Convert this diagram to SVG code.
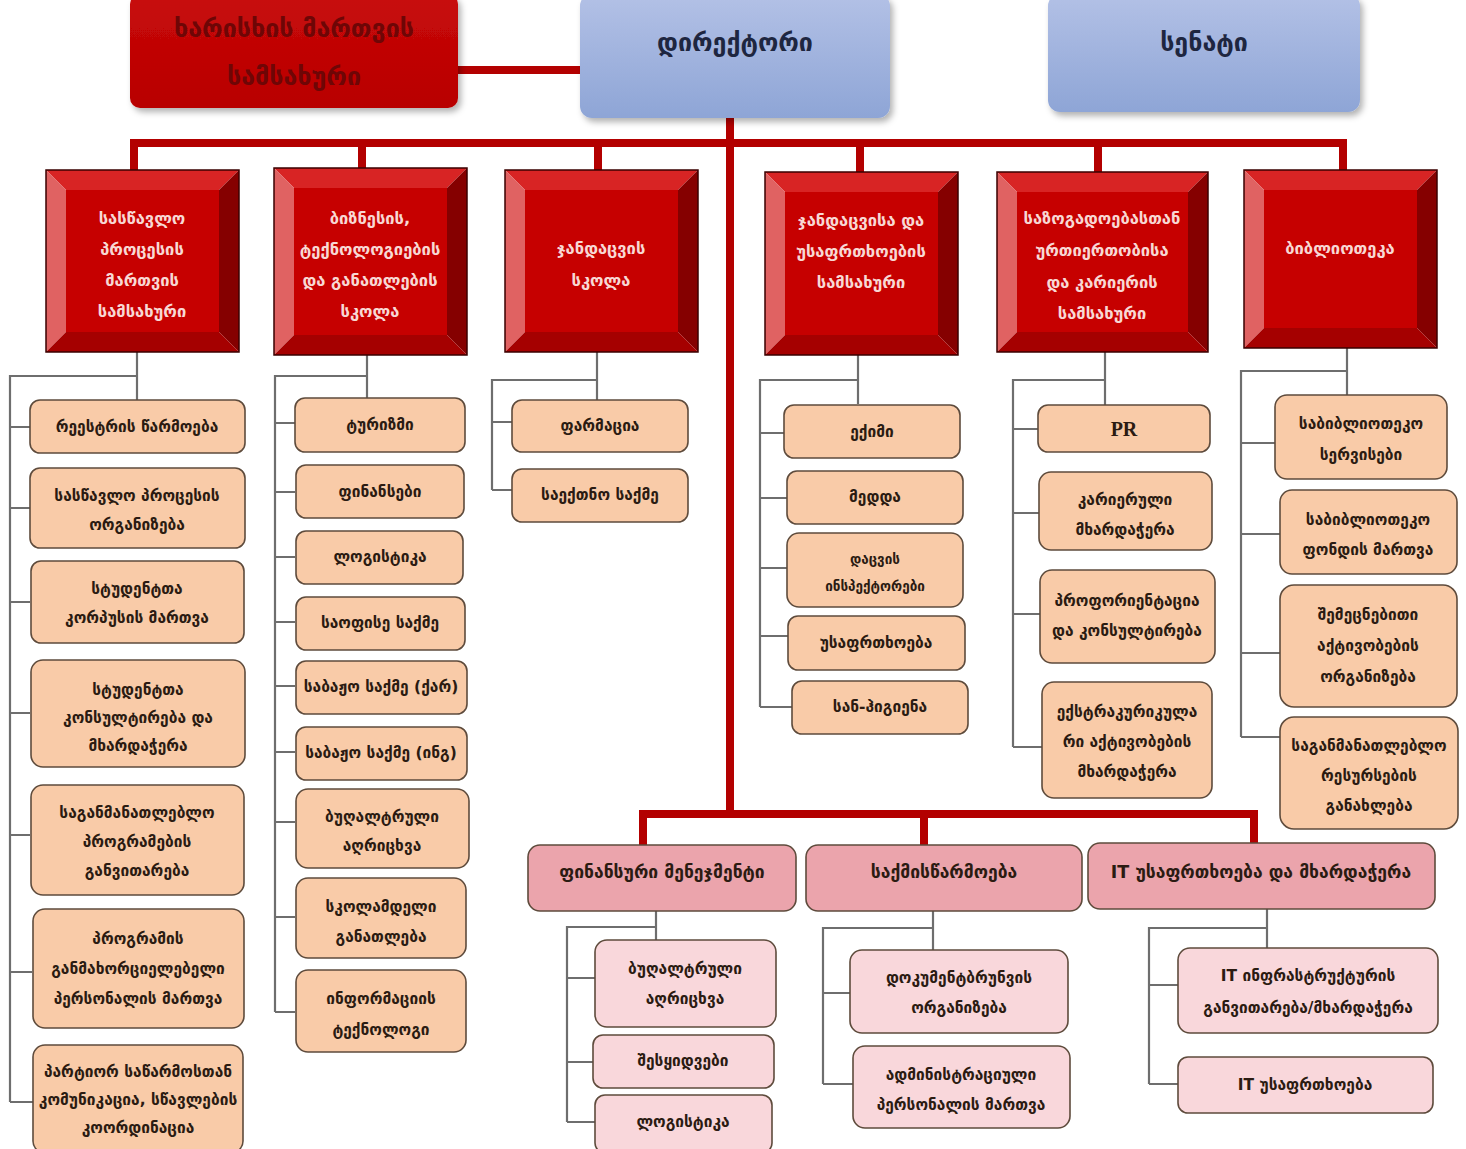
<svg xmlns="http://www.w3.org/2000/svg" width="1466" height="1149" viewBox="0 0 1466 1149">
<style>
.bg{fill:#ffffff}
.c1{fill:#F9CBA8;stroke:#5E4B3C;stroke-width:1.6}
.c2{fill:#F9D7DB;stroke:#5E4B3C;stroke-width:1.6}
.h2{fill:#EBA4AC;stroke:#5E4B3C;stroke-width:1.6}
.t{font-family:"DejaVu Sans",sans-serif;font-size:15.5px;font-weight:bold;fill:#2B1B12;text-anchor:middle;dominant-baseline:central}
.ts{font-size:13.5px}
.th{font-size:17.5px}
.pr{font-family:"Liberation Serif",serif;font-weight:bold;font-size:20px}
.rt{font-family:"DejaVu Sans",sans-serif;font-size:16.5px;font-weight:bold;fill:#F8D8D4;text-anchor:middle;dominant-baseline:central}
.gl{stroke:#6E6E6E;stroke-width:2.2;fill:none}
.rl{stroke:#B30000;stroke-width:8;fill:none}
.bt{fill:#D82424}.bl{fill:#E06262}.br{fill:#850000}.bb{fill:#A50000}.bc{fill:#C60000}
.bo{fill:none;stroke:#3a0000;stroke-width:1.5}
.top{font-family:"DejaVu Sans",sans-serif;font-size:25px;font-weight:bold;text-anchor:middle;dominant-baseline:central}
</style>
<defs>
<linearGradient id="blue" x1="0" y1="0" x2="0" y2="1">
<stop offset="0" stop-color="#B3C1E6"/>
<stop offset="1" stop-color="#8EA5D6"/>
</linearGradient>
<linearGradient id="red" x1="0" y1="0" x2="0" y2="1">
<stop offset="0" stop-color="#C80A0A"/>
<stop offset="1" stop-color="#B80000"/>
</linearGradient>
<filter id="sh" x="-10%" y="-10%" width="125%" height="130%">
<feDropShadow dx="3" dy="4" stdDeviation="3" flood-color="#000" flood-opacity="0.3"/>
</filter>
</defs>
<rect class="bg" width="1466" height="1149"/>

<g id="connectors">
<line class="rl" x1="456" y1="70" x2="582" y2="70"/>
<line class="rl" x1="730" y1="116" x2="730" y2="816"/>
<polyline class="rl" points="134,172 134,143 1343,143 1343,172"/>
<line class="rl" x1="362" y1="143" x2="362" y2="170"/>
<line class="rl" x1="598" y1="143" x2="598" y2="172"/>
<line class="rl" x1="860" y1="143" x2="860" y2="174"/>
<line class="rl" x1="1098" y1="143" x2="1098" y2="174"/>
<polyline class="rl" points="643,845 643,814 1254,814 1254,845"/>
<line class="rl" x1="924" y1="814" x2="924" y2="845"/>

<polyline class="gl" points="137,352 137,400"/>
<polyline class="gl" points="137,376 10,376 10,1102"/>
<path class="gl" d="M10 427H30M10 508H30M10 602H30M10 713H30M10 835H30M10 972H32M10 1102H33"/>

<polyline class="gl" points="367,355 367,398"/>
<polyline class="gl" points="367,376 275,376 275,1012"/>
<path class="gl" d="M275 423H295M275 492H295M275 557H295M275 622H295M275 686H295M275 752H295M275 822H295M275 917H295M275 1012H295"/>

<polyline class="gl" points="597,352 597,400"/>
<polyline class="gl" points="597,380 492,380 492,490"/>
<path class="gl" d="M492 422H512M492 490H512"/>

<polyline class="gl" points="858,355 858,404"/>
<polyline class="gl" points="858,380 760,380 760,707"/>
<path class="gl" d="M760 433H784M760 498H787M760 568H787M760 636H788M760 707H792"/>

<polyline class="gl" points="1105,352 1105,405"/>
<polyline class="gl" points="1105,380 1013,380 1013,747"/>
<path class="gl" d="M1013 429H1038M1013 513H1039M1013 614H1040M1013 747H1042"/>

<polyline class="gl" points="1347,348 1347,395"/>
<polyline class="gl" points="1347,371 1241,371 1241,737"/>
<path class="gl" d="M1241 443H1275M1241 534H1280M1241 653H1280M1241 737H1280"/>

<polyline class="gl" points="656,911 656,940"/>
<polyline class="gl" points="656,927 567,927 567,1122"/>
<path class="gl" d="M567 978H595M567 1062H593M567 1122H595"/>

<polyline class="gl" points="933,911 933,950"/>
<polyline class="gl" points="933,928 823,928 823,1084"/>
<path class="gl" d="M823 993H850M823 1084H853"/>

<polyline class="gl" points="1267,909 1267,948"/>
<polyline class="gl" points="1267,928 1149,928 1149,1084"/>
<path class="gl" d="M1149 985H1178M1149 1084H1178"/>
</g>

<g id="quality">
<rect x="130" y="-6" width="328" height="114" rx="10" fill="url(#red)" filter="url(#sh)"/>
<text class="top" x="294" y="28" fill="#6E0606">ხარისხის მართვის</text>
<text class="top" x="294" y="76" fill="#6E0606">სამსახური</text>
</g>
<g id="director">
<rect x="580" y="-6" width="310" height="124" rx="12" fill="url(#blue)" filter="url(#sh)"/>
<text class="top" x="735" y="42" fill="#1E2640" font-size="28">დირექტორი</text>
</g>
<g id="senate">
<rect x="1048" y="-6" width="312" height="118" rx="12" fill="url(#blue)" filter="url(#sh)"/>
<text class="top" x="1204" y="42" fill="#1E2640" font-size="28">სენატი</text>
</g>

<g id="dept1" transform="translate(46,170)">
<polygon class="bt" points="0,0 193,0 173,20 20,20"/><polygon class="bl" points="0,0 20,20 20,162 0,182"/><polygon class="br" points="193,0 193,182 173,162 173,20"/><polygon class="bb" points="0,182 193,182 173,162 20,162"/><rect class="bc" x="20" y="20" width="153" height="142"/><rect class="bo" width="193" height="182"/>
<text class="rt" x="96" y="48">სასწავლო</text><text class="rt" x="96" y="79">პროცესის</text><text class="rt" x="96" y="110">მართვის</text><text class="rt" x="96" y="141">სამსახური</text>
</g>
<g id="dept2" transform="translate(274,168)">
<polygon class="bt" points="0,0 193,0 173,20 20,20"/><polygon class="bl" points="0,0 20,20 20,167 0,187"/><polygon class="br" points="193,0 193,187 173,167 173,20"/><polygon class="bb" points="0,187 193,187 173,167 20,167"/><rect class="bc" x="20" y="20" width="153" height="147"/><rect class="bo" width="193" height="187"/>
<text class="rt" x="96" y="50">ბიზნესის,</text><text class="rt" x="96" y="81" font-size="15.5">ტექნოლოგიების</text><text class="rt" x="96" y="112">და განათლების</text><text class="rt" x="96" y="143">სკოლა</text>
</g>
<g id="dept3" transform="translate(505,170)">
<polygon class="bt" points="0,0 193,0 173,20 20,20"/><polygon class="bl" points="0,0 20,20 20,162 0,182"/><polygon class="br" points="193,0 193,182 173,162 173,20"/><polygon class="bb" points="0,182 193,182 173,162 20,162"/><rect class="bc" x="20" y="20" width="153" height="142"/><rect class="bo" width="193" height="182"/>
<text class="rt" x="96" y="78" font-size="19">ჯანდაცვის</text><text class="rt" x="96" y="110" font-size="19">სკოლა</text>
</g>
<g id="dept4" transform="translate(765,172)">
<polygon class="bt" points="0,0 193,0 173,20 20,20"/><polygon class="bl" points="0,0 20,20 20,163 0,183"/><polygon class="br" points="193,0 193,183 173,163 173,20"/><polygon class="bb" points="0,183 193,183 173,163 20,163"/><rect class="bc" x="20" y="20" width="153" height="143"/><rect class="bo" width="193" height="183"/>
<text class="rt" x="96" y="48">ჯანდაცვისა და</text><text class="rt" x="96" y="79" font-size="15.5">უსაფრთხოების</text><text class="rt" x="96" y="110">სამსახური</text>
</g>
<g id="dept5" transform="translate(997,172)">
<polygon class="bt" points="0,0 211,0 191,20 20,20"/><polygon class="bl" points="0,0 20,20 20,160 0,180"/><polygon class="br" points="211,0 211,180 191,160 191,20"/><polygon class="bb" points="0,180 211,180 191,160 20,160"/><rect class="bc" x="20" y="20" width="171" height="140"/><rect class="bo" width="211" height="180"/>
<text class="rt" x="105" y="46" font-size="15.5">საზოგადოებასთან</text><text class="rt" x="105" y="78">ურთიერთობისა</text><text class="rt" x="105" y="110">და კარიერის</text><text class="rt" x="105" y="141">სამსახური</text>
</g>
<g id="dept6" transform="translate(1244,170)">
<polygon class="bt" points="0,0 193,0 173,20 20,20"/><polygon class="bl" points="0,0 20,20 20,158 0,178"/><polygon class="br" points="193,0 193,178 173,158 173,20"/><polygon class="bb" points="0,178 193,178 173,158 20,158"/><rect class="bc" x="20" y="20" width="153" height="138"/><rect class="bo" width="193" height="178"/>
<text class="rt" x="96" y="78" font-size="18">ბიბლიოთეკა</text>
</g>

<g id="c1a"><rect class="c1" x="30" y="400" width="215" height="53" rx="10"/><text class="t" x="137" y="427">რეესტრის წარმოება</text></g>
<g id="c1b"><rect class="c1" x="30" y="468" width="215" height="80" rx="10"/><text class="t" x="137" y="496">სასწავლო პროცესის</text><text class="t" x="137" y="525">ორგანიზება</text></g>
<g id="c1c"><rect class="c1" x="31" y="561" width="213" height="82" rx="10"/><text class="t" x="137" y="589">სტუდენტთა</text><text class="t" x="137" y="618">კორპუსის მართვა</text></g>
<g id="c1d"><rect class="c1" x="31" y="660" width="214" height="107" rx="12"/><text class="t" x="138" y="690">სტუდენტთა</text><text class="t" x="138" y="718">კონსულტირება და</text><text class="t" x="138" y="746">მხარდაჭერა</text></g>
<g id="c1e"><rect class="c1" x="31" y="785" width="213" height="110" rx="12"/><text class="t" x="137" y="813">საგანმანათლებლო</text><text class="t" x="137" y="842">პროგრამების</text><text class="t" x="137" y="871">განვითარება</text></g>
<g id="c1f"><rect class="c1" x="33" y="909" width="211" height="119" rx="12"/><text class="t" x="138" y="939">პროგრამის</text><text class="t" x="138" y="969" font-size="14.5">განმახორციელებელი</text><text class="t" x="138" y="999">პერსონალის მართვა</text></g>
<g id="c1g"><rect class="c1" x="33" y="1045" width="210" height="108" rx="12"/><text class="t" x="138" y="1072" font-size="14">პარტიორ საწარმოსთან</text><text class="t" x="138" y="1100" font-size="13.5">კომუნიკაცია, სწავლების</text><text class="t" x="138" y="1128" font-size="14">კოორდინაცია</text></g>

<g id="c2a"><rect class="c1" x="295" y="398" width="170" height="54" rx="10"/><text class="t" x="380" y="425">ტურიზმი</text></g>
<g id="c2b"><rect class="c1" x="296" y="465" width="168" height="53" rx="10"/><text class="t" x="380" y="492">ფინანსები</text></g>
<g id="c2c"><rect class="c1" x="296" y="531" width="167" height="53" rx="10"/><text class="t" x="380" y="557">ლოგისტიკა</text></g>
<g id="c2d"><rect class="c1" x="296" y="597" width="169" height="53" rx="10"/><text class="t" x="380" y="623">საოფისე საქმე</text></g>
<g id="c2e"><rect class="c1" x="296" y="661" width="171" height="53" rx="10"/><text class="t" x="381" y="687" font-size="14.5">საბაჟო საქმე (ქარ)</text></g>
<g id="c2f"><rect class="c1" x="296" y="727" width="171" height="53" rx="10"/><text class="t" x="381" y="753" font-size="14.5">საბაჟო საქმე (ინგ)</text></g>
<g id="c2g"><rect class="c1" x="296" y="789" width="173" height="79" rx="12"/><text class="t" x="382" y="817">ბუღალტრული</text><text class="t" x="382" y="846">აღრიცხვა</text></g>
<g id="c2h"><rect class="c1" x="296" y="878" width="170" height="80" rx="12"/><text class="t" x="381" y="907">სკოლამდელი</text><text class="t" x="381" y="937">განათლება</text></g>
<g id="c2i"><rect class="c1" x="296" y="970" width="170" height="82" rx="12"/><text class="t" x="381" y="999">ინფორმაციის</text><text class="t" x="381" y="1030">ტექნოლოგი</text></g>

<g id="c3a"><rect class="c1" x="512" y="400" width="176" height="52" rx="10"/><text class="t" x="600" y="426">ფარმაცია</text></g>
<g id="c3b"><rect class="c1" x="512" y="469" width="176" height="53" rx="10"/><text class="t" x="600" y="495">საექთნო საქმე</text></g>

<g id="c4a"><rect class="c1" x="784" y="405" width="176" height="53" rx="10"/><text class="t" x="872" y="432">ექიმი</text></g>
<g id="c4b"><rect class="c1" x="787" y="471" width="176" height="53" rx="10"/><text class="t" x="875" y="497">მედდა</text></g>
<g id="c4c"><rect class="c1" x="787" y="533" width="176" height="74" rx="12"/><text class="t ts" x="875" y="559">დაცვის</text><text class="t ts" x="875" y="586">ინსპექტორები</text></g>
<g id="c4d"><rect class="c1" x="788" y="616" width="177" height="54" rx="10"/><text class="t" x="876" y="643">უსაფრთხოება</text></g>
<g id="c4e"><rect class="c1" x="792" y="681" width="176" height="53" rx="10"/><text class="t" x="880" y="707">სან-ჰიგიენა</text></g>

<g id="c5a"><rect class="c1" x="1038" y="405" width="172" height="47" rx="10"/><text class="t pr" x="1124" y="429">PR</text></g>
<g id="c5b"><rect class="c1" x="1039" y="472" width="173" height="78" rx="12"/><text class="t" x="1125" y="500">კარიერული</text><text class="t" x="1125" y="530">მხარდაჭერა</text></g>
<g id="c5c"><rect class="c1" x="1040" y="570" width="175" height="93" rx="12"/><text class="t" x="1127" y="601" font-size="14.5">პროფორიენტაცია</text><text class="t" x="1127" y="631" font-size="14.5">და კონსულტირება</text></g>
<g id="c5d"><rect class="c1" x="1042" y="682" width="170" height="116" rx="12"/><text class="t" x="1127" y="712" font-size="14.5">ექსტრაკურიკულა</text><text class="t" x="1127" y="742">რი აქტივობების</text><text class="t" x="1127" y="772">მხარდაჭერა</text></g>

<g id="c6a"><rect class="c1" x="1275" y="395" width="172" height="84" rx="12"/><text class="t" x="1361" y="424">საბიბლიოთეკო</text><text class="t" x="1361" y="455">სერვისები</text></g>
<g id="c6b"><rect class="c1" x="1280" y="490" width="177" height="84" rx="12"/><text class="t" x="1368" y="520">საბიბლიოთეკო</text><text class="t" x="1368" y="550">ფონდის მართვა</text></g>
<g id="c6c"><rect class="c1" x="1280" y="585" width="177" height="122" rx="14"/><text class="t" x="1368" y="615">შემეცნებითი</text><text class="t" x="1368" y="646">აქტივობების</text><text class="t" x="1368" y="677">ორგანიზება</text></g>
<g id="c6d"><rect class="c1" x="1280" y="717" width="178" height="112" rx="14"/><text class="t" x="1369" y="746" font-size="14.5">საგანმანათლებლო</text><text class="t" x="1369" y="776">რესურსების</text><text class="t" x="1369" y="806">განახლება</text></g>

<g id="fin"><rect class="h2" x="528" y="845" width="268" height="66" rx="12"/><text class="t th" x="662" y="872">ფინანსური მენეჯმენტი</text></g>
<g id="sakm"><rect class="h2" x="806" y="845" width="276" height="66" rx="12"/><text class="t th" x="944" y="872">საქმისწარმოება</text></g>
<g id="it"><rect class="h2" x="1088" y="843" width="347" height="66" rx="12"/><text class="t th" x="1261" y="872" font-size="16.5">IT უსაფრთხოება და მხარდაჭერა</text></g>

<g id="f1"><rect class="c2" x="595" y="940" width="181" height="87" rx="12"/><text class="t" x="685" y="969">ბუღალტრული</text><text class="t" x="685" y="999">აღრიცხვა</text></g>
<g id="f2"><rect class="c2" x="593" y="1035" width="181" height="53" rx="10"/><text class="t" x="683" y="1061">შესყიდვები</text></g>
<g id="f3"><rect class="c2" x="595" y="1095" width="177" height="58" rx="10"/><text class="t" x="683" y="1122">ლოგისტიკა</text></g>

<g id="s1"><rect class="c2" x="850" y="950" width="218" height="83" rx="12"/><text class="t" x="959" y="978">დოკუმენტბრუნვის</text><text class="t" x="959" y="1008">ორგანიზება</text></g>
<g id="s2"><rect class="c2" x="853" y="1046" width="217" height="82" rx="12"/><text class="t" x="961" y="1075">ადმინისტრაციული</text><text class="t" x="961" y="1105">პერსონალის მართვა</text></g>

<g id="i1"><rect class="c2" x="1178" y="948" width="260" height="85" rx="12"/><text class="t" x="1308" y="976">IT ინფრასტრუქტურის</text><text class="t" x="1308" y="1008">განვითარება/მხარდაჭერა</text></g>
<g id="i2"><rect class="c2" x="1178" y="1057" width="255" height="56" rx="10"/><text class="t" x="1305" y="1085">IT უსაფრთხოება</text></g>
</svg>
